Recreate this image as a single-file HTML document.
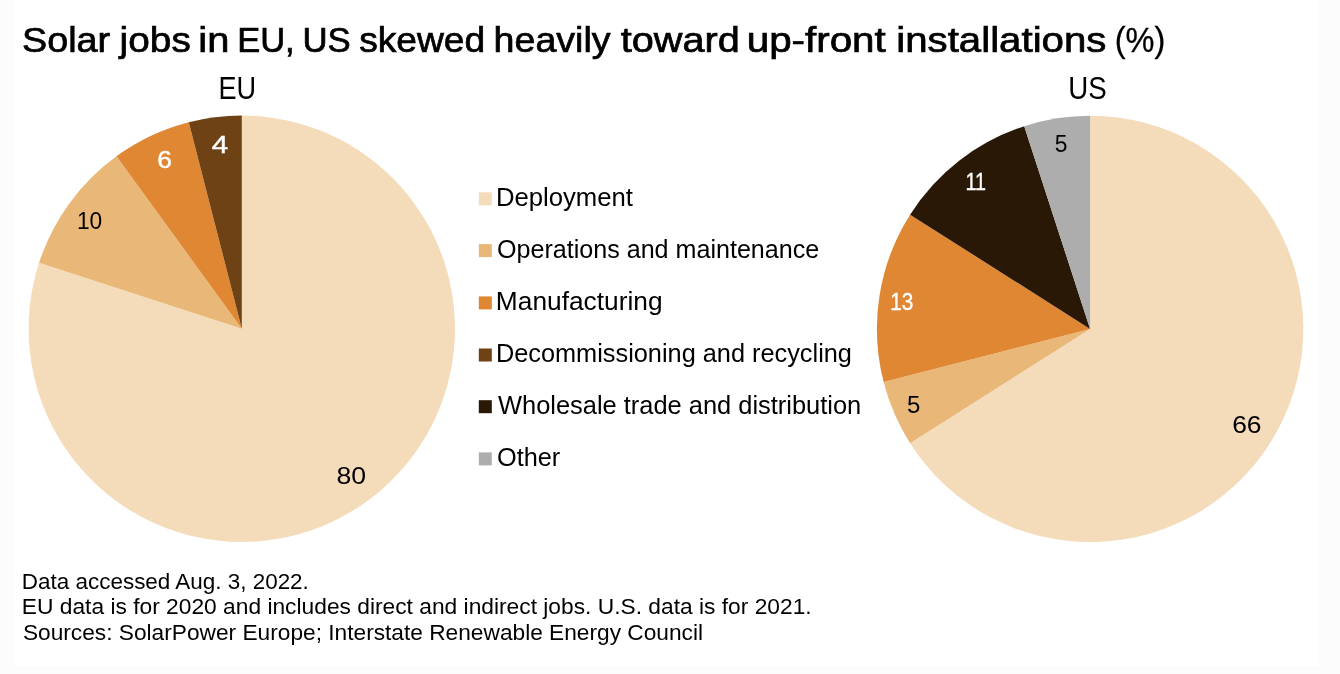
<!DOCTYPE html>
<html><head><meta charset="utf-8"><style>
html,body{margin:0;padding:0;background:#fcfcfc;}
body{width:1340px;height:674px;overflow:hidden;}
svg{display:block;will-change:transform;}
text{font-family:"Liberation Sans", Arial, sans-serif;}
</style></head><body>
<svg width="1340" height="674" viewBox="0 0 1340 674">
<rect width="1340" height="674" fill="#fcfcfc"/>
<rect x="14" y="0" width="1304" height="666" fill="#fff"/>
<path d="M241.80,328.70L241.80,115.50A213.2,213.2 0 1 1 39.03,262.82Z" fill="#F4DBBA"/>
<path d="M241.80,328.70L39.03,262.82A213.2,213.2 0 0 1 116.48,156.22Z" fill="#E9B878"/>
<path d="M241.80,328.70L116.48,156.22A213.2,213.2 0 0 1 188.78,122.20Z" fill="#DF8733"/>
<path d="M241.80,328.70L188.78,122.20A213.2,213.2 0 0 1 241.80,115.50Z" fill="#6E4214"/>
<path d="M1090.10,328.90L1090.10,115.70A213.2,213.2 0 1 1 910.09,443.14Z" fill="#F4DBBA"/>
<path d="M1090.10,328.90L910.09,443.14A213.2,213.2 0 0 1 883.60,381.92Z" fill="#E9B878"/>
<path d="M1090.10,328.90L883.60,381.92A213.2,213.2 0 0 1 910.09,214.66Z" fill="#DF8733"/>
<path d="M1090.10,328.90L910.09,214.66A213.2,213.2 0 0 1 1024.22,126.13Z" fill="#291806"/>
<path d="M1090.10,328.90L1024.22,126.13A213.2,213.2 0 0 1 1090.10,115.70Z" fill="#ADADAD"/>
<rect x="478.8" y="192.3" width="13" height="13" fill="#F4DBBA"/>
<rect x="478.8" y="244.1" width="13" height="13" fill="#E9B878"/>
<rect x="478.8" y="296.4" width="13" height="13" fill="#DF8733"/>
<rect x="478.8" y="348.5" width="13" height="13" fill="#6E4214"/>
<rect x="478.8" y="400.2" width="13" height="13" fill="#291806"/>
<rect x="478.8" y="452.4" width="13" height="13" fill="#ADADAD"/>
<text x="22.07" y="51.60" font-size="35" fill="#000" textLength="88.07" lengthAdjust="spacingAndGlyphs" stroke="#000" stroke-width="0.7">Solar</text>
<text x="119.64" y="51.60" font-size="35" fill="#000" textLength="71.16" lengthAdjust="spacingAndGlyphs" stroke="#000" stroke-width="0.7">jobs</text>
<text x="198.39" y="51.60" font-size="35" fill="#000" textLength="31.06" lengthAdjust="spacingAndGlyphs" stroke="#000" stroke-width="0.7">in</text>
<text x="237.21" y="51.60" font-size="35" fill="#000" textLength="57.51" lengthAdjust="spacingAndGlyphs" stroke="#000" stroke-width="0.7">EU,</text>
<text x="302.48" y="51.60" font-size="35" fill="#000" textLength="48.26" lengthAdjust="spacingAndGlyphs" stroke="#000" stroke-width="0.7">US</text>
<text x="359.15" y="51.60" font-size="35" fill="#000" textLength="126.05" lengthAdjust="spacingAndGlyphs" stroke="#000" stroke-width="0.7">skewed</text>
<text x="493.61" y="51.60" font-size="35" fill="#000" textLength="116.91" lengthAdjust="spacingAndGlyphs" stroke="#000" stroke-width="0.7">heavily</text>
<text x="620.75" y="51.60" font-size="35" fill="#000" textLength="118.94" lengthAdjust="spacingAndGlyphs" stroke="#000" stroke-width="0.7">toward</text>
<text x="746.69" y="51.60" font-size="35" fill="#000" textLength="139.09" lengthAdjust="spacingAndGlyphs" stroke="#000" stroke-width="0.7">up-front</text>
<text x="896.27" y="51.60" font-size="35" fill="#000" textLength="210.19" lengthAdjust="spacingAndGlyphs" stroke="#000" stroke-width="0.7">installations</text>
<text x="1114.70" y="51.60" font-size="35" fill="#000" textLength="50.58" lengthAdjust="spacingAndGlyphs" stroke="#000" stroke-width="0.3">(%)</text>
<text x="218.41" y="99.30" font-size="32" fill="#000" textLength="37.65" lengthAdjust="spacingAndGlyphs">EU</text>
<text x="1068.29" y="99.30" font-size="32" fill="#000" textLength="38.42" lengthAdjust="spacingAndGlyphs">US</text>
<text x="495.90" y="205.90" font-size="25" fill="#000" textLength="137.02" lengthAdjust="spacingAndGlyphs">Deployment</text>
<text x="496.98" y="257.70" font-size="25" fill="#000" textLength="322.27" lengthAdjust="spacingAndGlyphs">Operations and maintenance</text>
<text x="495.85" y="310.00" font-size="25" fill="#000" textLength="166.71" lengthAdjust="spacingAndGlyphs">Manufacturing</text>
<text x="495.93" y="362.10" font-size="25" fill="#000" textLength="356.03" lengthAdjust="spacingAndGlyphs">Decommissioning and recycling</text>
<text x="498.00" y="413.80" font-size="25" fill="#000" textLength="363.26" lengthAdjust="spacingAndGlyphs">Wholesale trade and distribution</text>
<text x="496.97" y="466.00" font-size="25" fill="#000" textLength="63.34" lengthAdjust="spacingAndGlyphs">Other</text>
<text x="21.86" y="588.50" font-size="21.5" fill="#000" textLength="286.98" lengthAdjust="spacingAndGlyphs">Data accessed Aug. 3, 2022.</text>
<text x="21.83" y="614.00" font-size="21.5" fill="#000" textLength="789.80" lengthAdjust="spacingAndGlyphs">EU data is for 2020 and includes direct and indirect jobs. U.S. data is for 2021.</text>
<text x="22.92" y="639.50" font-size="21.5" fill="#000" textLength="680.15" lengthAdjust="spacingAndGlyphs">Sources: SolarPower Europe; Interstate Renewable Energy Council</text>
<text x="336.43" y="484.10" font-size="24" fill="#000" textLength="29.66" lengthAdjust="spacingAndGlyphs">80</text>
<text x="76.93" y="229.00" font-size="24" fill="#000" textLength="25.29" lengthAdjust="spacingAndGlyphs">10</text>
<text x="157.17" y="168.10" font-size="24" fill="#fff" textLength="14.67" lengthAdjust="spacingAndGlyphs" stroke="#fff" stroke-width="0.4">6</text>
<text x="211.82" y="153.00" font-size="24" fill="#fff" textLength="16.49" lengthAdjust="spacingAndGlyphs" stroke="#fff" stroke-width="0.4">4</text>
<text x="1232.16" y="432.60" font-size="24" fill="#000" textLength="29.41" lengthAdjust="spacingAndGlyphs">66</text>
<text x="906.98" y="412.90" font-size="24" fill="#000" textLength="13.36" lengthAdjust="spacingAndGlyphs">5</text>
<text x="890.25" y="309.90" font-size="24" fill="#fff" textLength="23.08" lengthAdjust="spacingAndGlyphs" stroke="#fff" stroke-width="0.4">13</text>
<text x="965.39" y="190.30" font-size="24" fill="#fff" textLength="20.51" lengthAdjust="spacingAndGlyphs" stroke="#fff" stroke-width="0.4">11</text>
<text x="1054.76" y="152.40" font-size="24" fill="#000" textLength="12.70" lengthAdjust="spacingAndGlyphs">5</text>
</svg>
</body></html>
